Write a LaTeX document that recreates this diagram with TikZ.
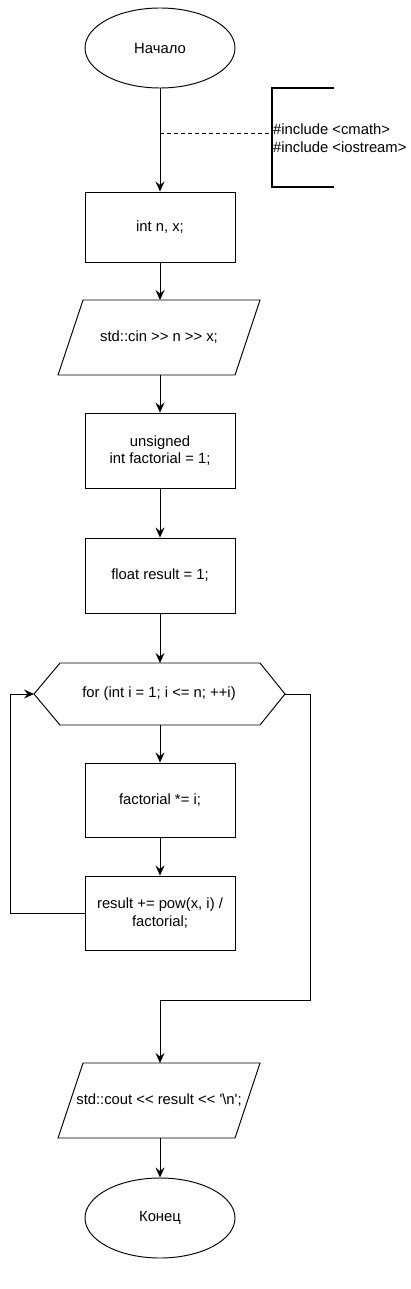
\documentclass[tikz,border=0pt]{standalone}
\usepackage{fontspec}
\newfontfamily\lsans{Liberation Sans}
\usetikzlibrary{shapes.geometric,arrows.meta,calc}
\begin{document}
\begin{tikzpicture}[x=1pt,y=-1pt,
  every node/.style={font=\lsans\fontsize{14.8}{17.8}\selectfont},
  box/.style={draw,line width=0.95pt,minimum width=150pt,minimum height=75pt,inner sep=0pt,align=center},
  term/.style={draw,line width=0.95pt,ellipse,minimum width=150pt,minimum height=80pt,inner sep=0pt},
  arr/.style={line width=0.95pt,-{Stealth[length=10pt,width=9pt,inset=3.5pt]}},
  ln/.style={line width=0.95pt}]
\useasboundingbox (0,0) rectangle (410,1289);
% start
\node[term] (start) at (160,48) {Начало};
% comment bracket
\coordinate (bt) at (272,88);
\coordinate (bb) at (272,187);
\draw[line width=2.2pt] (334,88) -- (bt) -- (bb) -- (334,187);
\node[anchor=west,align=left,inner sep=0pt] (cmt) at (273,138) {\#include <cmath>\\\#include <iostream>};
\coordinate (dA) at (160,133);
\coordinate (dB) at (271,133);
\draw[ln,dashed,dash pattern=on 4pt off 3pt] (dA) -- (dB);
% boxes
\node[box,minimum height=70pt] (b1) at (160,227) {int n, x;};
\draw[ln] (83,300) -- (260,300) -- (235,375) -- (58,375) -- cycle;
\node (in) at (159,337.5) {std::cin >> n >> x;};
\coordinate (inT) at (160,300);
\coordinate (inB) at (160,375);
\node[box] (b2) at (160,450.5) {unsigned\\int factorial = 1;};
\node[box] (b3) at (160,575.5) {float result = 1;};
% hexagon
\draw[ln] (34,694) -- (60,663) -- (260,663) -- (285,694) -- (260,725) -- (60,725) -- cycle;
\node (for) at (159,694) {for (int i = 1; i <= n; ++i)};
\coordinate (forT) at (160,663);
\coordinate (forB) at (160,725);
\coordinate (forL) at (34,694);
\coordinate (forR) at (285,694);
\node[box,minimum height=74pt] (b4) at (160,800) {factorial *= i;};
\node[box,minimum height=74pt] (b5) at (160,913) {result += pow(x, i) /\\factorial;};
% output
\draw[ln] (83,1063) -- (260,1063) -- (235,1138) -- (58,1138) -- cycle;
\node (out) at (159,1100.5) {std::cout << result << '\textbackslash n';};
\coordinate (outT) at (160,1063);
\coordinate (outB) at (160,1138);
\node[term] (end) at (160,1218) {Конец};
% connectors
\draw[arr] (start.south) -- (b1.north);
\draw[arr] (b1.south) -- (inT);
\draw[arr] (inB) -- (b2.north);
\draw[arr] (b2.south) -- (b3.north);
\draw[arr] (b3.south) -- (forT);
\draw[arr] (forB) -- (b4.north);
\draw[arr] (b4.south) -- (b5.north);
\draw[arr] (b5.west) -- (10,913) -- (10,694) -- (forL);
\draw[arr] (forR) -- (310,694) -- (310,1000) -- (160,1000) -- (outT);
\draw[arr] (outB) -- (end.north);
\end{tikzpicture}
\end{document}
